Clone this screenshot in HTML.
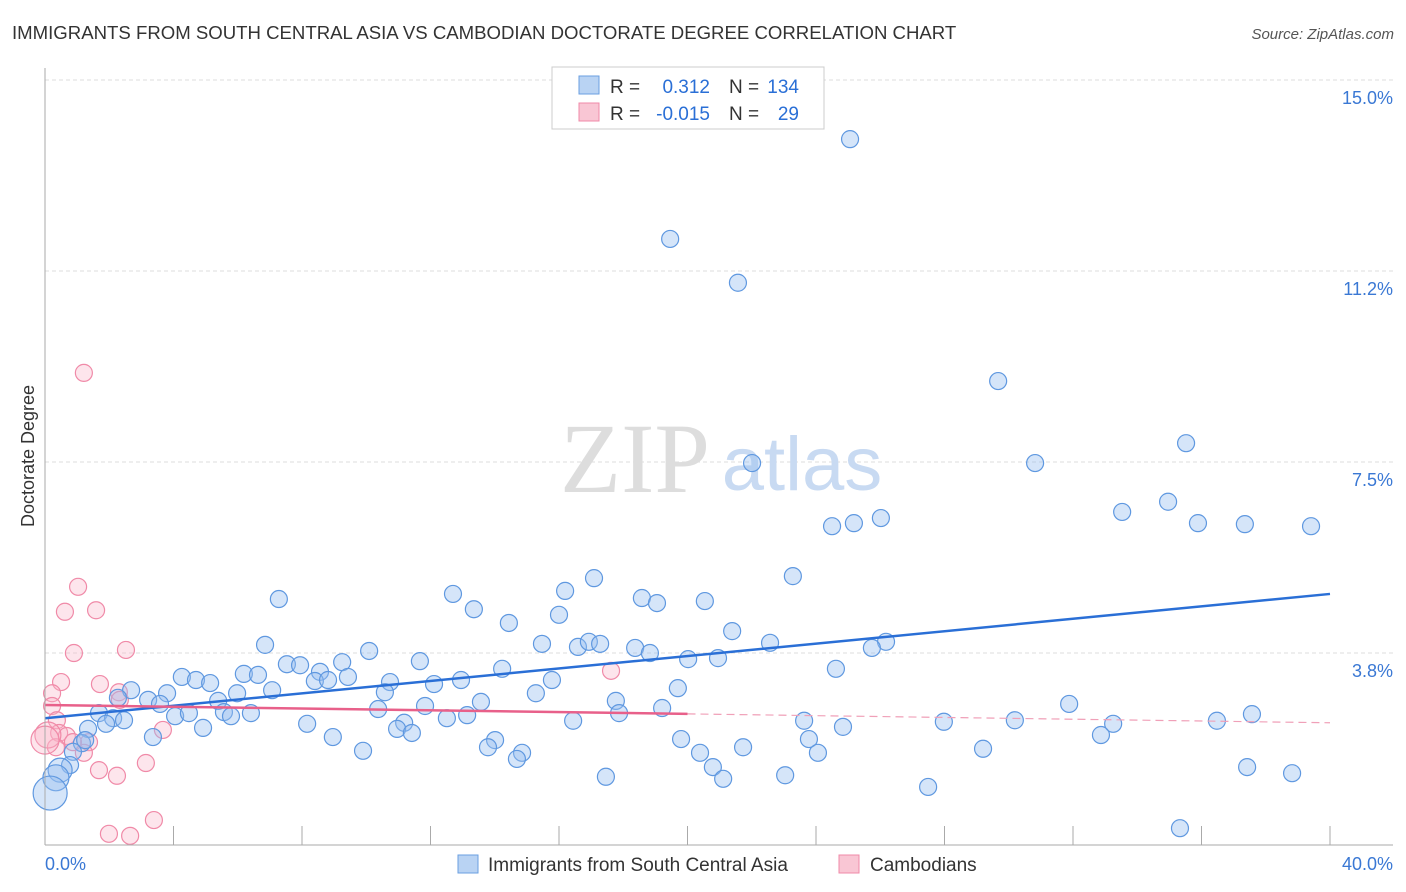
<!DOCTYPE html>
<html><head><meta charset="utf-8"><style>
body{margin:0;background:#fff;font-family:"Liberation Sans",sans-serif;}
svg{display:block}
</style></head><body>
<svg width="1406" height="892" xmlns="http://www.w3.org/2000/svg">
<text x="12" y="39" font-size="18.6" fill="#333">IMMIGRANTS FROM SOUTH CENTRAL ASIA VS CAMBODIAN DOCTORATE DEGREE CORRELATION CHART</text>
<text x="1394" y="39" font-size="15" fill="#555" font-style="italic" text-anchor="end">Source: ZipAtlas.com</text>
<g id="grid"></g>
<text x="635" y="492" font-size="100" font-family="Liberation Serif" fill="#ddd" text-anchor="middle">ZIP</text>
<text x="802" y="490" font-size="76" fill="#c8daf2" text-anchor="middle">atlas</text>
<g id="pts"></g>
<g id="lines"></g>
<g id="axes"></g>
<text x="34" y="456" font-size="18" fill="#333" text-anchor="middle" transform="rotate(-90 34 456)">Doctorate Degree</text>
<g>
<rect x="552" y="67" width="272" height="62" fill="#fff" stroke="#ccc"/>
<rect x="579" y="76" width="20" height="18" fill="#b9d3f3" stroke="#6a9fe0"/>
<rect x="579" y="103" width="20" height="18" fill="#f9c6d4" stroke="#f08aa8"/>
<text x="610" y="93" font-size="19" fill="#333">R =</text>
<text x="710" y="93" font-size="19" fill="#2a6fd6" text-anchor="end">0.312</text>
<text x="729" y="93" font-size="19" fill="#333">N =</text>
<text x="799" y="93" font-size="19" fill="#2a6fd6" text-anchor="end">134</text>
<text x="610" y="120" font-size="19" fill="#333">R =</text>
<text x="710" y="120" font-size="19" fill="#2a6fd6" text-anchor="end">-0.015</text>
<text x="729" y="120" font-size="19" fill="#333">N =</text>
<text x="799" y="120" font-size="19" fill="#2a6fd6" text-anchor="end">29</text>
</g>
<g>
<rect x="458" y="855" width="20" height="18" fill="#b9d3f3" stroke="#6a9fe0"/>
<text x="488" y="871" font-size="19" fill="#333">Immigrants from South Central Asia</text>
<rect x="839" y="855" width="20" height="18" fill="#f9c6d4" stroke="#f08aa8"/>
<text x="870" y="871" font-size="19" fill="#333">Cambodians</text>
</g>
</svg>
<script>
const yTicks=[3.75,7.5,11.25,15];
const yTickLabels=["3.8%","7.5%","11.2%","15.0%"];
const xTickLabels=["0.0%","40.0%"];
const bluePx=[[850,139],[670,239],[738,283],[998,381],[1186,443],[1035,463],[752,463],[1122,512],[1168,502],[1198,523],[1245,524],[1311,526],[832,526],[854,523],[881,518],[793,576],[594,578],[565,591],[453,594],[279,599],[642,598],[657,603],[705,601],[474,609],[559,615],[509,623],[732,631],[265,645],[542,644],[578,647],[589,642],[600,644],[635,648],[650,653],[770,643],[886,642],[872,648],[688,659],[718,658],[369,651],[342,662],[420,661],[287,664],[300,665],[320,672],[836,669],[502,669],[244,674],[258,675],[182,677],[196,680],[210,683],[315,681],[328,680],[348,677],[390,682],[434,684],[461,680],[552,680],[678,688],[272,690],[237,693],[167,693],[131,690],[385,692],[536,693],[148,700],[118,698],[160,704],[218,701],[481,702],[616,701],[378,709],[425,706],[662,708],[1069,704],[1252,714],[175,716],[189,713],[224,712],[231,716],[251,713],[99,713],[113,718],[124,720],[106,724],[447,718],[467,715],[573,721],[619,713],[804,721],[944,722],[1015,720],[1113,724],[1217,721],[307,724],[404,723],[397,729],[412,733],[203,728],[843,727],[153,737],[333,737],[495,740],[681,739],[809,739],[1101,735],[488,747],[363,751],[522,753],[517,759],[700,753],[743,747],[818,753],[983,749],[713,767],[1247,767],[1292,773],[606,777],[723,779],[785,775],[928,787],[1180,828],[88,729],[82,743],[73,752],[70,765],[60,770],[56,778],[50,793],[85,740]];
const pinkPx=[[84,373],[78,587],[65,612],[96,610],[74,653],[126,650],[61,682],[100,684],[52,693],[119,692],[120,700],[52,706],[57,720],[59,733],[163,730],[67,736],[89,742],[73,742],[56,747],[84,753],[611,671],[99,770],[117,776],[146,763],[109,834],[130,836],[154,820],[48,735],[45,740]];
const blueX=bluePx.map(p=>+((p[0]-45)/32.125).toFixed(2));
const blueY=bluePx.map(p=>+((844-p[1])/50.93).toFixed(2));
const pinkX=pinkPx.map(p=>+((p[0]-45)/32.125).toFixed(2));
const pinkY=pinkPx.map(p=>+((844-p[1])/50.93).toFixed(2));
const blueBig={127:12,128:13,129:17,133:11,131:11};
const pinkBig={27:13,28:14};
const blueTrend=[2.47,4.91];
const pinkTrend=[2.73,2.38];
const NS="http://www.w3.org/2000/svg";
const X=v=>45+v*32.125, Y=v=>844-v*50.93;
function mk(t,a,parent){const e=document.createElementNS(NS,t);for(const k in a)e.setAttribute(k,a[k]);parent.appendChild(e);return e;}
const grid=document.getElementById('grid'),axes=document.getElementById('axes'),pts=document.getElementById('pts'),lines=document.getElementById('lines');
yTicks.forEach((v,i)=>{
 const l=mk('line',{x1:45,x2:1393,y1:Y(v),y2:Y(v),stroke:'#ddd','stroke-dasharray':'4,3'},grid);
 
 
 const t=mk('text',{x:1393,y:Y(v)+24,'font-size':18,fill:'#3a78d4','text-anchor':'end'},axes);
 t.textContent=yTickLabels[i];
 
 
});
let a=mk('line',{x1:45,x2:45,y1:68,y2:845,stroke:'#aaa'},axes);


a=mk('line',{x1:45,x2:1393,y1:845,y2:845,stroke:'#aaa'},axes);


for(let i=1;i<=10;i++){const t=mk('line',{x1:X(i*4),x2:X(i*4),y1:826,y2:845,stroke:'#aaa'},axes);
 
 }
let tl=mk('text',{x:45,y:870,'font-size':18,fill:'#3a78d4'},axes);tl.textContent=xTickLabels[0];


tl=mk('text',{x:1393,y:870,'font-size':18,fill:'#3a78d4','text-anchor':'end'},axes);tl.textContent=xTickLabels[1];


pinkX.forEach((x,i)=>{const c=mk('circle',{cx:X(x),cy:Y(pinkY[i]),r:pinkBig[i]||8.5,fill:'rgba(248,180,200,0.35)',stroke:'#f08aa8','stroke-width':1.2},pts);
 
 });
blueX.forEach((x,i)=>{const c=mk('circle',{cx:X(x),cy:Y(blueY[i]),r:blueBig[i]||8.5,fill:'rgba(150,190,240,0.4)',stroke:'#5f98e0','stroke-width':1.2},pts);
 
 });
let ln=mk('line',{x1:X(0),y1:Y(blueTrend[0]),x2:X(40),y2:Y(blueTrend[1]),stroke:'#2a6fd6','stroke-width':2.5},lines);


const pm=pinkTrend[0]+(pinkTrend[1]-pinkTrend[0])*0.5;
ln=mk('line',{x1:X(0),y1:Y(pinkTrend[0]),x2:X(20),y2:Y(pm),stroke:'#e8608a','stroke-width':2.5},lines);


ln=mk('line',{x1:X(20),y1:Y(pm),x2:X(40),y2:Y(pinkTrend[1]),stroke:'#f0a0b8','stroke-width':1.2,'stroke-dasharray':'8,5'},lines);


</script>
</body></html>
